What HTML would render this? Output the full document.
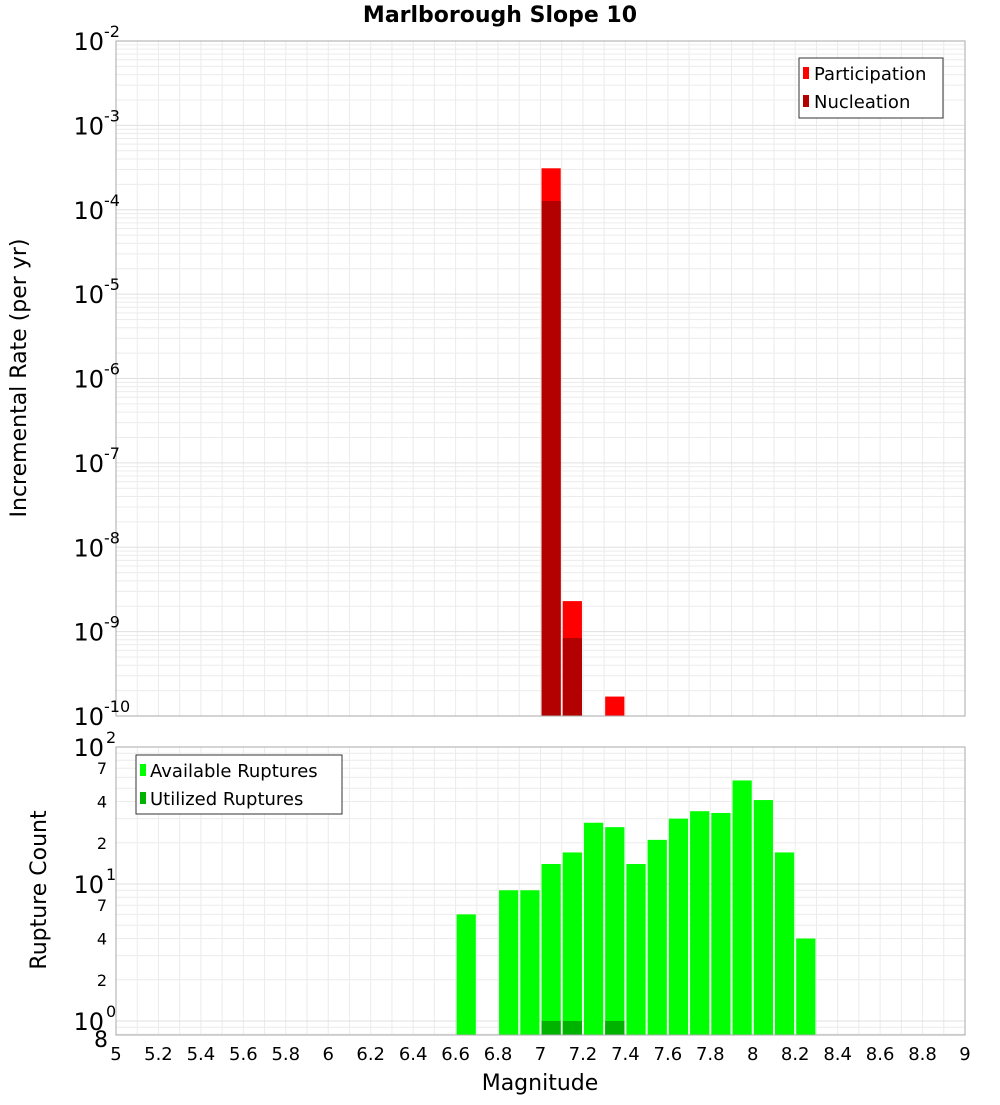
<!DOCTYPE html>
<html><head><meta charset="utf-8"><style>
body{margin:0;background:#fff;font-family:"Liberation Sans","DejaVu Sans",sans-serif}
svg text{font-family:"DejaVu Sans","Liberation Sans",sans-serif}
</style></head><body>
<svg id="c" width="1000" height="1100" xmlns="http://www.w3.org/2000/svg"></svg>
<script>
const magCenters = [6.65,6.85,6.95,7.05,7.15,7.25,7.35,7.45,7.55,7.65,7.75,7.85,7.95,8.05,8.15,8.25];
const availableCounts = [6,9,9,14,17,28,26,14,21,30,34,33,57,41,17,4];
const utilizedMags = [7.05,7.15,7.35];
const utilizedCounts = [1,1,1];
const partMags = [7.05,7.15,7.35];
const partRates = [3.1e-4,2.3e-9,1.7e-10];
const nuclMags = [7.05,7.15];
const nuclRates = [1.27e-4,8.4e-10];
const xTicks = [5,5.2,5.4,5.6,5.8,6,6.2,6.4,6.6,6.8,7,7.2,7.4,7.6,7.8,8,8.2,8.4,8.6,8.8,9];
const topExps = [-2,-3,-4,-5,-6,-7,-8,-9,-10];
const botMinorLabels = [2,4,7];

const svg=document.getElementById('c');const NS='http://www.w3.org/2000/svg';
function el(t,a,txt){const e=document.createElementNS(NS,t);for(const k in a)e.setAttribute(k,a[k]);if(txt!==undefined)e.textContent=txt;svg.appendChild(e);return e;}
const L=116,R=965;
const x=m=>L+(m-5)/4*(R-L);
const T1=41,B1=716;
const y1=v=>T1+(-2-Math.log10(v))*(B1-T1)/8;
const T2=747,B2=1035,D2=137;
const y2=v=>T2+(2-Math.log10(v))*D2;
// plot backgrounds
let e=el('rect',{x:L,y:T1,width:R-L,height:B1-T1,fill:'#fff'});

e=el('rect',{x:L,y:T2,width:R-L,height:B2-T2,fill:'#fff'});

// grids
for(let m=5;m<=9.001;m+=0.1){const X=x(m);
 el('line',{x1:X,x2:X,y1:T1,y2:B1,stroke:'#ebebeb','stroke-width':1});
 el('line',{x1:X,x2:X,y1:T2,y2:B2,stroke:'#ebebeb','stroke-width':1});}
for(let p=-10;p<-2;p++)for(let k=1;k<10;k++){const Y=y1(k*Math.pow(10,p));
 el('line',{x1:L,x2:R,y1:Y,y2:Y,stroke:k==1?'#e0e0e0':'#ececec','stroke-width':1});}
for(let p=-1;p<2;p++)for(let k=1;k<10;k++){const v=k*Math.pow(10,p);if(v<0.79)continue;const Y=y2(v);
 el('line',{x1:L,x2:R,y1:Y,y2:Y,stroke:k==1?'#e0e0e0':'#ececec','stroke-width':1});}
// top bars
const bw=0.1*(R-L)/4-2;
partMags.forEach((m,i)=>{const Y=y1(partRates[i]);const b=el('rect',{x:x(m)-bw/2,y:Y,width:bw,height:B1-Y,fill:'#ff0000'});
 });
nuclMags.forEach((m,i)=>{const Y=y1(nuclRates[i]);const b=el('rect',{x:x(m)-bw/2,y:Y,width:bw,height:B1-Y,fill:'#b30000'});
 });
// bottom bars
magCenters.forEach((m,i)=>{const Y=y2(availableCounts[i]);const b=el('rect',{x:x(m)-bw/2,y:Y,width:bw,height:B2-Y,fill:'#00ff00'});
 });
utilizedMags.forEach((m,i)=>{const Y=y2(utilizedCounts[i]);const b=el('rect',{x:x(m)-bw/2,y:Y,width:bw,height:B2-Y,fill:'#00b300'});
 });
// borders
el('rect',{x:L,y:T1,width:R-L,height:B1-T1,fill:'none',stroke:'#aaa','stroke-width':1});
el('rect',{x:L,y:T2,width:R-L,height:B2-T2,fill:'none',stroke:'#aaa','stroke-width':1});
// top y ticks
topExps.forEach(p=>{const Y=y1(Math.pow(10,p));
 const t=el('text',{x:104,y:Y+9,'font-size':24,'text-anchor':'end',fill:'#000'},'10');
 
 el('text',{x:104,y:Y-4,'font-size':16,fill:'#000'},String(p));});
// bottom y ticks
[[100,'2'],[10,'1'],[1,'0']].forEach(([v,s])=>{const Y=y2(v);
 const t=el('text',{x:104,y:Y+9,'font-size':24,'text-anchor':'end',fill:'#000'},'10');
 
 el('text',{x:106,y:Y-4,'font-size':16,fill:'#000'},s);});
[10,1].forEach(base=>botMinorLabels.forEach(k=>{const Y=y2(k*base);
 const t=el('text',{x:107,y:Y+6,'font-size':16,'text-anchor':'end',fill:'#000'},String(k));
 }));
el('text',{x:108,y:B2+12,'font-size':22,'text-anchor':'end',fill:'#000'},'8');
// x ticks
xTicks.forEach(m=>{const t=el('text',{x:x(m),y:1060,'font-size':18,'text-anchor':'middle',fill:'#000'},String(m));
 });
// titles
e=el('text',{x:500,y:22,'font-size':22,'font-weight':'bold','text-anchor':'middle',fill:'#000'},'Marlborough Slope 10');

e=el('text',{x:540,y:1090,'font-size':22,'text-anchor':'middle',fill:'#000'},'Magnitude');

e=el('text',{x:0,y:0,'font-size':22,'text-anchor':'middle',fill:'#000',transform:'translate(26,378) rotate(-90)'},'Incremental Rate (per yr)');

e=el('text',{x:0,y:0,'font-size':22,'text-anchor':'middle',fill:'#000',transform:'translate(46,890) rotate(-90)'},'Rupture Count');

// legends
e=el('rect',{x:799,y:58,width:144,height:60,fill:'#fff',stroke:'#333','stroke-width':1});

el('rect',{x:803,y:67,width:6,height:12,fill:'#ff0000'});
e=el('text',{x:814,y:80,'font-size':18,fill:'#000'},'Participation');
el('rect',{x:803,y:95,width:6,height:12,fill:'#b30000'});
e=el('text',{x:814,y:108,'font-size':18,fill:'#000'},'Nucleation');
e=el('rect',{x:136,y:755,width:206,height:59,fill:'#fff',stroke:'#333','stroke-width':1});

el('rect',{x:140,y:764,width:6,height:12,fill:'#00ff00'});
e=el('text',{x:150,y:777,'font-size':18,fill:'#000'},'Available Ruptures');
el('rect',{x:140,y:792,width:6,height:12,fill:'#00b300'});
e=el('text',{x:150,y:805,'font-size':18,fill:'#000'},'Utilized Ruptures');
</script>
</body></html>
